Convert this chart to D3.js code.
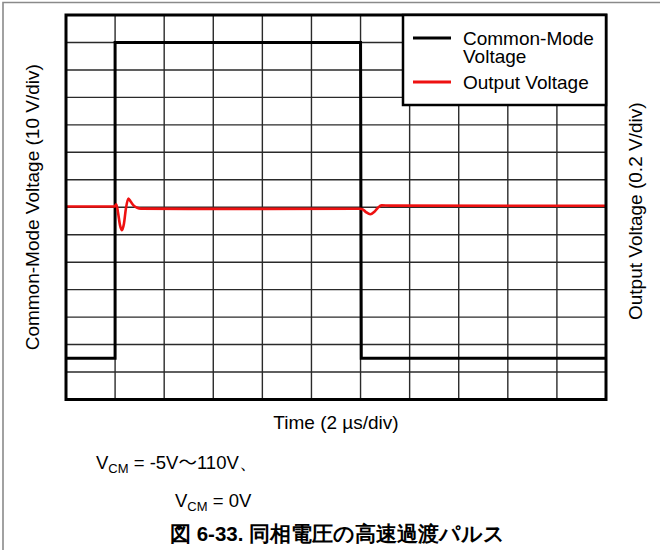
<!DOCTYPE html>
<html>
<head>
<meta charset="utf-8">
<script src="https://cdn.jsdelivr.net/npm/d3@7/dist/d3.min.js"></script>
<style>
  html, body { margin: 0; padding: 0; background: #fff; }
  svg { display: block; }
  text { font-family: "Liberation Sans", Arial, sans-serif; fill: #000; }
</style>
</head>
<body>
<svg id="chart" width="660" height="550"></svg>
<script>
// Time axis: 2 µs per division, 11 divisions
const timeTicks = [0, 2, 4, 6, 8, 10, 12, 14, 16, 18, 20, 22];
// Common-mode axis: 10 V per division, 14 divisions
const cmTicks = [-20, -10, 0, 10, 20, 30, 40, 50, 60, 70, 80, 90, 100, 110, 120];

// Common-mode voltage step: -5 V -> 110 V -> -5 V (time in µs, volts)
const cmTime  = [0, 2.0, 2.0, 12.0, 12.03, 22];
const cmVolts = [-5, -5, 110, 110, -5, -5];

// Output voltage response (time in µs, volts; 0.2 V/div)
const outTime  = [0, 1.98, 2.05, 2.12, 2.2, 2.28, 2.36, 2.44, 2.54, 2.64, 2.76, 2.9, 3.05, 5, 8, 11.98,
                  12.08, 12.22, 12.4, 12.55, 12.7, 12.86, 13.2, 22];
const outVolts = [0.005, 0.005, 0.022, -0.04, -0.13, -0.167, -0.12, -0.01, 0.063, 0.04, 0.012, -0.004, -0.01,
                  -0.012, -0.012, -0.011, -0.014, -0.035, -0.051, -0.035, -0.005, 0.014, 0.012, 0.011];

const legendLabels = [["Common-Mode", "Voltage"], ["Output Voltage"]];
const legendColors = ["#000000", "#ee1111"];

const svg = d3.select("#chart");
const plotL = 66, plotR = 606, plotT = 15, plotB = 399.5;

const x = d3.scaleLinear().domain([0, 22]).range([plotL, plotR]);
const yCM = d3.scaleLinear().domain([-20, 120]).range([plotB, plotT]);
const yOut = d3.scaleLinear().domain([-1.4, 1.4]).range([plotB, plotT]);

// page frame
svg.append("path")
  .attr("d", "M3,552 L3,2.5 L662,2.5")
  .attr("fill", "none").attr("stroke", "#8a8a8a").attr("stroke-width", 1.6);

// grid
const grid = svg.append("g");
grid.selectAll("line.v").data(timeTicks.slice(1, -1)).enter().append("line")
  .attr("x1", d => x(d)).attr("x2", d => x(d))
  .attr("y1", plotT).attr("y2", plotB)
  .attr("stroke", "#2a2a2a").attr("stroke-width", 1.4);
grid.selectAll("line.h").data(cmTicks.slice(1, -1)).enter().append("line")
  .attr("x1", plotL).attr("x2", plotR)
  .attr("y1", d => yCM(d)).attr("y2", d => yCM(d))
  .attr("stroke", "#2a2a2a").attr("stroke-width", 1.4);

// common-mode trace
const cmData = cmTime.map((t, i) => [t, cmVolts[i]]);
svg.append("path")
  .datum(cmData)
  .attr("fill", "none").attr("stroke", "#000").attr("stroke-width", 3)
  .attr("d", d3.line().x(d => x(d[0])).y(d => yCM(d[1])));

// output trace
const outData = outTime.map((t, i) => [t, outVolts[i]]);
svg.append("path")
  .datum(outData)
  .attr("fill", "none").attr("stroke", legendColors[1]).attr("stroke-width", 2.6)
  .attr("stroke-linejoin", "round")
  .attr("d", d3.line().curve(d3.curveMonotoneX).x(d => x(d[0])).y(d => yOut(d[1])));

// plot border
svg.append("rect")
  .attr("x", plotL).attr("y", plotT)
  .attr("width", plotR - plotL).attr("height", plotB - plotT)
  .attr("fill", "none").attr("stroke", "#000").attr("stroke-width", 3);

// legend
const lg = svg.append("g");
lg.append("rect")
  .attr("x", 403).attr("y", plotT).attr("width", plotR - 403).attr("height", 90)
  .attr("fill", "#fff").attr("stroke", "#000").attr("stroke-width", 2.5);
const legendY = [38, 82];
legendLabels.forEach((lines, i) => {
  lg.append("line")
    .attr("x1", 413).attr("x2", 451)
    .attr("y1", legendY[i]).attr("y2", legendY[i])
    .attr("stroke", legendColors[i]).attr("stroke-width", 2.8);
  const t = lg.append("text")
    .attr("x", 463).attr("y", legendY[i] + 7)
    .attr("font-size", 19);
  lines.forEach((s, j) => {
    t.append("tspan").attr("x", 463).attr("dy", j ? 18 : 0).text(s);
  });
});

// axis titles
svg.append("text")
  .attr("transform", `translate(39,${(plotT + plotB) / 2}) rotate(-90)`)
  .attr("text-anchor", "middle").attr("font-size", 19)
  .text("Common-Mode Voltage (10 V/div)");
svg.append("text")
  .attr("transform", `translate(642,${(plotT + plotB) / 2 + 4}) rotate(-90)`)
  .attr("text-anchor", "middle").attr("font-size", 19)
  .text("Output Voltage (0.2 V/div)");
svg.append("text")
  .attr("x", (plotL + plotR) / 2).attr("y", 429)
  .attr("text-anchor", "middle").attr("font-size", 19)
  .text("Time (2 µs/div)");

// conditions
function vcm(xp, yp, parts) {
  const t = svg.append("text").attr("x", xp).attr("y", yp).attr("font-size", 18.5);
  t.append("tspan").text("V");
  t.append("tspan").attr("font-size", 13).attr("dy", 4).text("CM");
  t.append("tspan").attr("dy", -4).text(parts[0]);
  if (parts[1]) {
    t.append("tspan").attr("font-family", "'Noto Sans CJK JP', sans-serif").text(parts[1]);
    t.append("tspan").text(parts[2]);
  }
}
vcm(96, 469, [" = -5V", "\u301C", "110V\u3001"]);
vcm(175, 507, [" = 0V"]);

// caption
svg.append("text")
  .attr("x", 170).attr("y", 541)
  .attr("font-family", "'Noto Sans CJK JP', sans-serif")
  .attr("font-weight", "bold").attr("font-size", 20.5)
  .text("図 6-33. 同相電圧の高速過渡パルス");
</script>
</body>
</html>
